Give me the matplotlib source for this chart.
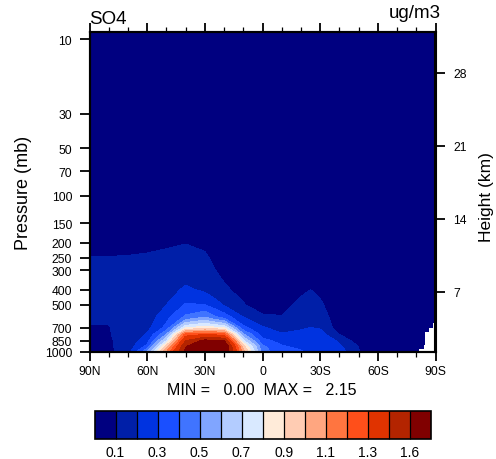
import matplotlib
matplotlib.use('Agg')
import matplotlib.pyplot as plt
from matplotlib.colors import ListedColormap, BoundaryNorm
from matplotlib.cm import ScalarMappable
import numpy as np

plt.rcParams['font.family'] = ['Liberation Sans', 'DejaVu Sans']

W, H = 496, 460

lats = [90, 80, 70, 60, 50, 40, 30, 25, 20, 10, 0, -10, -20, -25, -30, -40, -50, -60, -70, -80, -90]
levels_p = [9, 100, 150, 200, 250, 300, 400, 500, 600, 700, 775, 850, 925, 1000]

# SO4 por nivel de presion, una fila por nivel
so4_9 = [.01] * 21
so4_100 = [.02] * 21
so4_150 = [.03] * 21
so4_200 = [.08, .08, .085, .09, .095, .098, .09, .07, .05, .03, .03, .03, .03, .03, .03, .02, .02, .02, .02, .02, .02]
so4_250 = [.102, .102, .103, .105, .108, .12, .108, .09, .07, .04, .03, .03, .03, .03, .03, .02, .02, .02, .02, .02, .02]
so4_300 = [.105, .105, .105, .105, .115, .14, .125, .102, .085, .05, .04, .04, .04, .05, .04, .02, .02, .02, .02, .02, .02]
so4_400 = [.105, .105, .11, .11, .15, .22, .18, .14, .11, .08, .05, .05, .085, .1, .08, .03, .02, .02, .02, .02, .02]
so4_500 = [.105, .105, .11, .125, .2, .31, .3, .25, .19, .105, .06, .07, .12, .13, .115, .03, .02, .02, .02, .02, .02]
so4_600 = [.105, .105, .115, .14, .27, .42, .5, .42, .36, .2, .115, .105, .16, .16, .15, .04, .03, .02, .02, .02, .02]
so4_700 = [.098, .098, .12, .17, .33, .78, .85, .82, .78, .33, .21, .16, .19, .2, .19, .05, .03, .02, .02, .02, .02]
so4_775 = [.095, .095, .13, .21, .5, 1.25, 1.3, 1.28, 1.25, .52, .26, .21, .22, .24, .24, .1, .04, .02, .02, .02, .02]
so4_850 = [.09, .09, .13, .26, .7, 1.45, 1.65, 1.62, 1.6, .72, .33, .27, .25, .27, .3, .18, .05, .03, .02, .02, .02]
so4_925 = [.085, .085, .14, .33, .95, 1.58, 2.0, 1.9, 1.8, .95, .42, .31, .28, .28, .27, .22, .098, .03, .02, .02, .02]
so4_1000 = [.08, .08, .15, .5, 1.1, 1.65, 2.15, 2.0, 1.75, 1.05, .45, .33, .31, .28, .26, .25, .105, .03, .02, .02, .02]

# zona sin datos (terreno) abajo a la derecha
terrain_lat = [-81.2, -83.8, -84.7, -86.5, -88.8, -90]
terrain_p = [960, 900, 745, 700, 650, 650]

cont_levels = [0, .1, .2, .3, .4, .5, .6, .7, .8, .9, 1.0, 1.1, 1.2, 1.3, 1.45, 1.6, 2.2]
colores = ['#000080', '#001fa8', '#0033e0', '#1a4fff', '#4074ff', '#80a5ff', '#b3ccff', '#d9e9ff',
           '#ffebd9', '#ffccb3', '#ffa680', '#ff7540', '#ff4f1a', '#e03300', '#b32400', '#800000']
cbar_ticks = [.1, .3, .5, .7, .9, 1.1, 1.3, 1.6]

p_ticks = [10, 30, 50, 70, 100, 150, 200, 250, 300, 400, 500, 700, 850, 1000]
lat_ticks = [90, 60, 30, 0, -30, -60, -90]
lat_labels = ['90N', '60N', '30N', '0', '30S', '60S', '90S']
lat_minor = [80, 70, 50, 40, 20, 10, -10, -20, -40, -50, -70, -80]
height_ticks = [7, 14, 21, 28]

so4 = np.array([so4_9, so4_100, so4_150, so4_200, so4_250, so4_300, so4_400, so4_500,
                so4_600, so4_700, so4_775, so4_850, so4_925, so4_1000])


def caja(x0, y0, x1, y1):
  # pixeles (desde arriba) a fraccion de figura
  return [x0 / W, 1 - y1 / H, (x1 - x0) / W, (y1 - y0) / H]


fig = plt.figure(figsize=(W / 100, H / 100), dpi=100)
ax = fig.add_axes(caja(89.5, 33.3, 435.5, 352.8))

cmap = ListedColormap(colores)
norm = BoundaryNorm(cont_levels, cmap.N)
ax.contourf(lats, levels_p, so4, levels=cont_levels, cmap=cmap, norm=norm)
ax.fill_between(terrain_lat, terrain_p, 1000, step='post', color='white', lw=0, zorder=2)

ax.set_yscale('log')
ax.set_ylim(1000, 9.03)
ax.set_xlim(90, -90)
ax.set_xticks(lat_ticks)
ax.set_xticklabels(lat_labels, fontsize=8.7)
ax.set_yticks(p_ticks)
ax.set_yticklabels([str(p) for p in p_ticks], fontsize=8.7)
ax.minorticks_off()
ax.set_xticks(lat_minor, minor=True)
ax.tick_params(axis='x', which='major', length=6.5, width=1.3, top=True, pad=3)
ax.tick_params(axis='x', which='minor', length=3.5, width=0.9, top=True)
ax.tick_params(axis='y', which='major', length=7, width=1.3, pad=5.5)
for s in ax.spines.values():
  s.set_linewidth(1.5)
  s.set_zorder(5)
ax.set_ylabel('Pressure (mb)', fontsize=13, labelpad=9)

ax2 = ax.twinx()
ax2.set_ylim(1.25, 31.9)
ax2.set_yticks(height_ticks)
ax2.set_yticklabels([str(h) for h in height_ticks], fontsize=8.7)
ax2.tick_params(axis='y', length=7, width=1.3, pad=6)
for s in ax2.spines.values():
  s.set_linewidth(1.5)

fig.text(487 / W, 1 - 197 / H, 'Height (km)', fontsize=12.5, rotation=90, ha='center', va='center')
fig.text(89 / W, 1 - 24 / H, 'SO4', fontsize=13.5, ha='left', va='baseline')
fig.text(441 / W, 1 - 18 / H, 'ug/m3', fontsize=13.5, ha='right', va='baseline')
fig.text(262 / W, 1 - 395 / H, 'MIN =   0.00  MAX =   2.15', fontsize=11.5, ha='center', va='baseline')

cax = fig.add_axes(caja(94.5, 411.8, 430.7, 440))
cb = fig.colorbar(ScalarMappable(norm=norm, cmap=cmap), cax=cax, orientation='horizontal',
                  spacing='uniform', ticks=cbar_ticks, drawedges=True)
cb.ax.set_xticklabels([f'{t:.1f}' for t in cbar_ticks], fontsize=10)
cb.ax.tick_params(length=0, pad=4.5)
cb.ax.minorticks_off()
cb.outline.set_linewidth(1.2)
cb.dividers.set_linewidth(0.9)

plt.savefig('out.png', dpi=100)
